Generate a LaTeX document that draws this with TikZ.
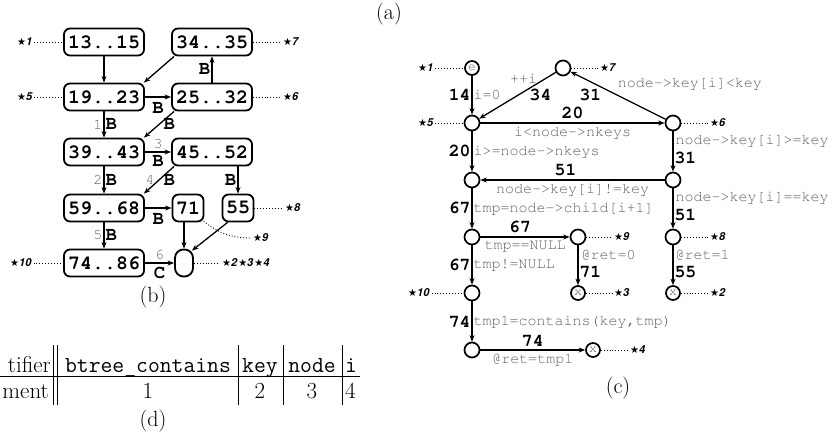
\documentclass[tikz,border=0pt]{standalone}
\usepackage[T1]{fontenc}
\usepackage{fontspec}
\newfontfamily\heros{TeX Gyre Heros}
\newfontfamily\djv{DejaVu Sans}
\newcommand\courB{\fontencoding{T1}\fontfamily{pcr}\fontseries{b}\fontshape{n}\selectfont}
\newcommand\courM{\fontencoding{T1}\fontfamily{pcr}\fontseries{m}\fontshape{n}\selectfont}
\newcommand\starlab[1]{{\djv\fontsize{10}{10}\selectfont ★}{\heros\bfseries\itshape\fontsize{11}{11}\selectfont #1}}
\usetikzlibrary{arrows.meta}
\definecolor{lbl}{gray}{0.38}
\begin{document}
\begin{tikzpicture}[x=1pt,y=-1pt,
  box/.style={draw,line width=1.8pt,rounded corners=6pt,minimum width=80pt,minimum height=27pt,inner sep=0pt,font=\courB\fontsize{20}{20}\selectfont},
  sbox/.style={box,minimum width=31pt},
  arr/.style={-{Stealth[length=6.5pt,width=5pt]},line width=1.3pt},
  bl/.style={font=\courB\fontsize{19}{19}\selectfont,inner sep=1pt},
  gd/.style={font=\courM\fontsize{15}{15}\selectfont,text=lbl,inner sep=1pt},
  st/.style={inner sep=2pt,anchor=west},
  dl/.style={dotted,line width=0.9pt},
  cn/.style={draw,circle,line width=1.7pt,minimum size=15pt,inner sep=0pt,font=\courM\fontsize{13}{13}\selectfont,text=lbl},
  num/.style={font=\courB\fontsize{18}{18}\selectfont,inner sep=1pt},
  cond/.style={font=\courM\fontsize{15}{15}\selectfont,text=lbl,inner sep=1pt},
  captxt/.style={font=\fontsize{22}{26}\selectfont,inner sep=0pt},
  tab/.style={font=\fontsize{23}{27}\selectfont,inner sep=0pt,anchor=base}
]
\useasboundingbox (0,0) rectangle (832,438);

% ---------- (a)
\node[captxt] (capa) at (389,14) {(a)};

% ---------- (b)
\node[box] (n1315) at (104,42) {13..15};
\node[box] (n3435) at (212,42) {34..35};
\node[box] (n1923) at (104,97) {19..23};
\node[box] (n2532) at (212,97) {25..32};
\node[box] (n3943) at (104,152) {39..43};
\node[box] (n4552) at (212,152) {45..52};
\node[box] (n5968) at (104,208) {59..68};
\node[sbox] (n71) at (188,208) {71};
\node[sbox] (n55) at (238,208) {55};
\node[box] (n7486) at (104,263) {74..86};
\node[draw,line width=1.8pt,rounded corners=8.5pt,minimum width=18pt,minimum height=27pt,inner sep=0pt] (ov) at (184,263) {};

\draw[arr] (n1315) -- (n1923);
\draw[arr] ([xshift=3pt]n3435.south west) -- ([xshift=-1pt]n1923.north east);
\draw[arr] (n2532) -- node[bl,left]{B} (n3435);
\draw[arr] (n1923) -- node[bl,below=4pt]{B} (n2532);
\draw[arr] (n1923) -- node[gd,left]{1} node[bl,right]{B} (n3943);
\draw[arr] ([xshift=3pt]n2532.south west) -- node[bl,right=3pt]{B} ([xshift=-1pt]n3943.north east);
\draw[arr] (n3943) -- node[gd,above=2pt]{3} node[bl,below=2pt]{B} (n4552);
\draw[arr] (n3943) -- node[gd,left]{2} node[bl,right]{B} (n5968);
\draw[arr] ([xshift=3pt]n4552.south west) -- node[gd,left=3pt]{4} node[bl,right=3pt]{B} ([xshift=-1pt]n5968.north east);
\draw[arr] (n55 |- n4552.south) -- node[bl,left]{B} (n55);
\draw[arr] (n5968) -- node[bl,below=4pt]{B} (n71);
\draw[arr] (n5968) -- node[gd,left]{5} node[bl,right]{B} (n7486);
\draw[arr] (n71.south -| ov.north) -- (ov);
\draw[arr] ([xshift=6pt]n55.south west) -- ([xshift=-2pt,yshift=-2pt]ov.north east);
\draw[arr] (n7486) -- node[gd,above=2pt]{6} node[bl,below=3pt]{C} (ov);

\node[st] (s1b) at (15,42) {\starlab{1}};
\node[st] (s7b) at (281,42) {\starlab{7}};
\node[st] (s5b) at (15,97) {\starlab{5}};
\node[st] (s6b) at (281,97) {\starlab{6}};
\node[st] (s8b) at (283,208) {\starlab{8}};
\node[st] (s9b) at (251,238) {\starlab{9}};
\node[st] (s10b) at (8,263) {\starlab{10}};
\node[st] (s234) at (220,263) {\starlab{2}\kern1pt\starlab{3}\kern1pt\starlab{4}};
\draw[dl] (s1b) -- (n1315);
\draw[dl] (n3435) -- (s7b);
\draw[dl] (s5b) -- (n1923);
\draw[dl] (n2532) -- (s6b);
\draw[dl] (n55) -- (s8b);
\draw[dl] ([xshift=-3pt,yshift=3pt]n71.south east) to[out=-40,in=180] (s9b.west);
\draw[dl] (s10b) -- (n7486);
\draw[dl] (ov) -- (s234);
\node[captxt] (capb) at (153,297) {(b)};

% ---------- (c)
\node[cn,minimum size=14pt] (ce) at (472,68) {e};
\node[cn] (c7) at (563,68) {};
\node[cn] (c5) at (472,123) {};
\node[cn] (c6) at (673,123) {};
\node[cn] (cA) at (472,180) {};
\node[cn] (cR) at (673,180) {};
\node[cn] (cB) at (472,237) {};
\node[cn] (c9) at (578,237) {};
\node[cn] (c8) at (673,237) {};
\node[cn] (c10) at (472,293) {};
\node[cn,minimum size=14pt] (cx3) at (578,293) {x};
\node[cn,minimum size=14pt] (cx2) at (673,293) {x};
\node[cn] (cD) at (472,350) {};
\node[cn,minimum size=14pt] (cx4) at (593,350) {x};

\draw[arr] (ce) -- node[num,left]{14} node[cond,right]{i=0} (c5);
\draw[arr] (c7) -- node[cond,pos=0.42,above=7pt]{++i} node[num,pos=0.2,below=6pt]{34} (c5);
\draw[arr] (c6) -- node[num,pos=0.79,below=6pt]{31} node[cond,pos=0.52,anchor=south west,yshift=3pt]{node->key[i]<key} (c7);
\draw[arr] (c5) -- node[num,above=2pt]{20} node[cond,below=2pt]{i<node->nkeys} (c6);
\draw[arr] (c6) -- node[cond,pos=0.24,anchor=west,xshift=1pt]{node->key[i]>=key} node[num,pos=0.67,anchor=west]{31} (cR);
\draw[arr] (c5) -- node[num,left]{20} node[cond,right]{i>=node->nkeys} (cA);
\draw[arr] (cR) -- node[num,above=2pt,xshift=-7pt]{51} node[cond,below=2pt]{node->key[i]!=key} (cA);
\draw[arr] (cA) -- node[num,left]{67} node[cond,right]{tmp=node->child[i+1]} (cB);
\draw[arr] (cR) -- node[cond,pos=0.24,anchor=west,xshift=1pt]{node->key[i]==key} node[num,pos=0.67,anchor=west]{51} (c8);
\draw[arr] (cB) -- node[num,above=2pt,xshift=-5pt]{67} node[cond,below=2pt]{tmp==NULL} (c9);
\draw[arr] (c9) -- node[cond,pos=0.24,anchor=west,xshift=2pt]{@ret=0} node[num,pos=0.67,anchor=west]{71} (cx3);
\draw[arr] (c8) -- node[cond,pos=0.24,anchor=west,xshift=1pt]{@ret=1} node[num,pos=0.67,anchor=west]{55} (cx2);
\draw[arr] (cB) -- node[num,left]{67} node[cond,right]{tmp!=NULL} (c10);
\draw[arr] (c10) -- node[num,left]{74} node[cond,right]{tmp1=contains(key,tmp)} (cD);
\draw[arr] (cD) -- node[num,above=2pt]{74} node[cond,below=2pt]{@ret=tmp1} (cx4);

\node[st] (s1c) at (416,68) {\starlab{1}};
\node[st] (s7c) at (598,68) {\starlab{7}};
\node[st] (s5c) at (416,123) {\starlab{5}};
\node[st] (s6c) at (708,123) {\starlab{6}};
\node[st] (s9c) at (612,237) {\starlab{9}};
\node[st] (s8c) at (708,237) {\starlab{8}};
\node[st] (s10c) at (406,293) {\starlab{10}};
\node[st] (s3c) at (612,293) {\starlab{3}};
\node[st] (s2c) at (708,293) {\starlab{2}};
\node[st] (s4c) at (628,350) {\starlab{4}};
\draw[dl] (s1c) -- (ce);
\draw[dl] (c7) -- (s7c);
\draw[dl] (s5c) -- (c5);
\draw[dl] (c6) -- (s6c);
\draw[dl] (c9) -- (s9c);
\draw[dl] (c8) -- (s8c);
\draw[dl] (s10c) -- (c10);
\draw[dl] (cx3) -- (s3c);
\draw[dl] (cx2) -- (s2c);
\draw[dl] (cx4) -- (s4c);
\node[captxt] (capc) at (618,388) {(c)};

% ---------- (d)
\node[tab,anchor=base east] (h0) at (51,372) {tifier};
\node[tab] (h1) at (148,372) {\ttfamily btree\_contains};
\node[tab] (h2) at (260,372) {\ttfamily key};
\node[tab] (h3) at (312,372) {\ttfamily node};
\node[tab,anchor=base west] (h4) at (345,372) {\ttfamily i};
\node[tab,anchor=base east] (r0) at (49,398) {ment};
\node[tab] (r1) at (148,398) {1};
\node[tab] (r2) at (260,398) {2};
\node[tab] (r3) at (312,398) {3};
\node[tab,anchor=base west] (r4) at (345,398) {4};
\draw[line width=0.9pt] (0,376) -- (360,376);
\foreach \xx in {53,57,238,283,342} \draw[line width=0.9pt] (\xx,345) -- (\xx,405);
\node[captxt] (capd) at (153,421) {(d)};
\end{tikzpicture}
\end{document}
